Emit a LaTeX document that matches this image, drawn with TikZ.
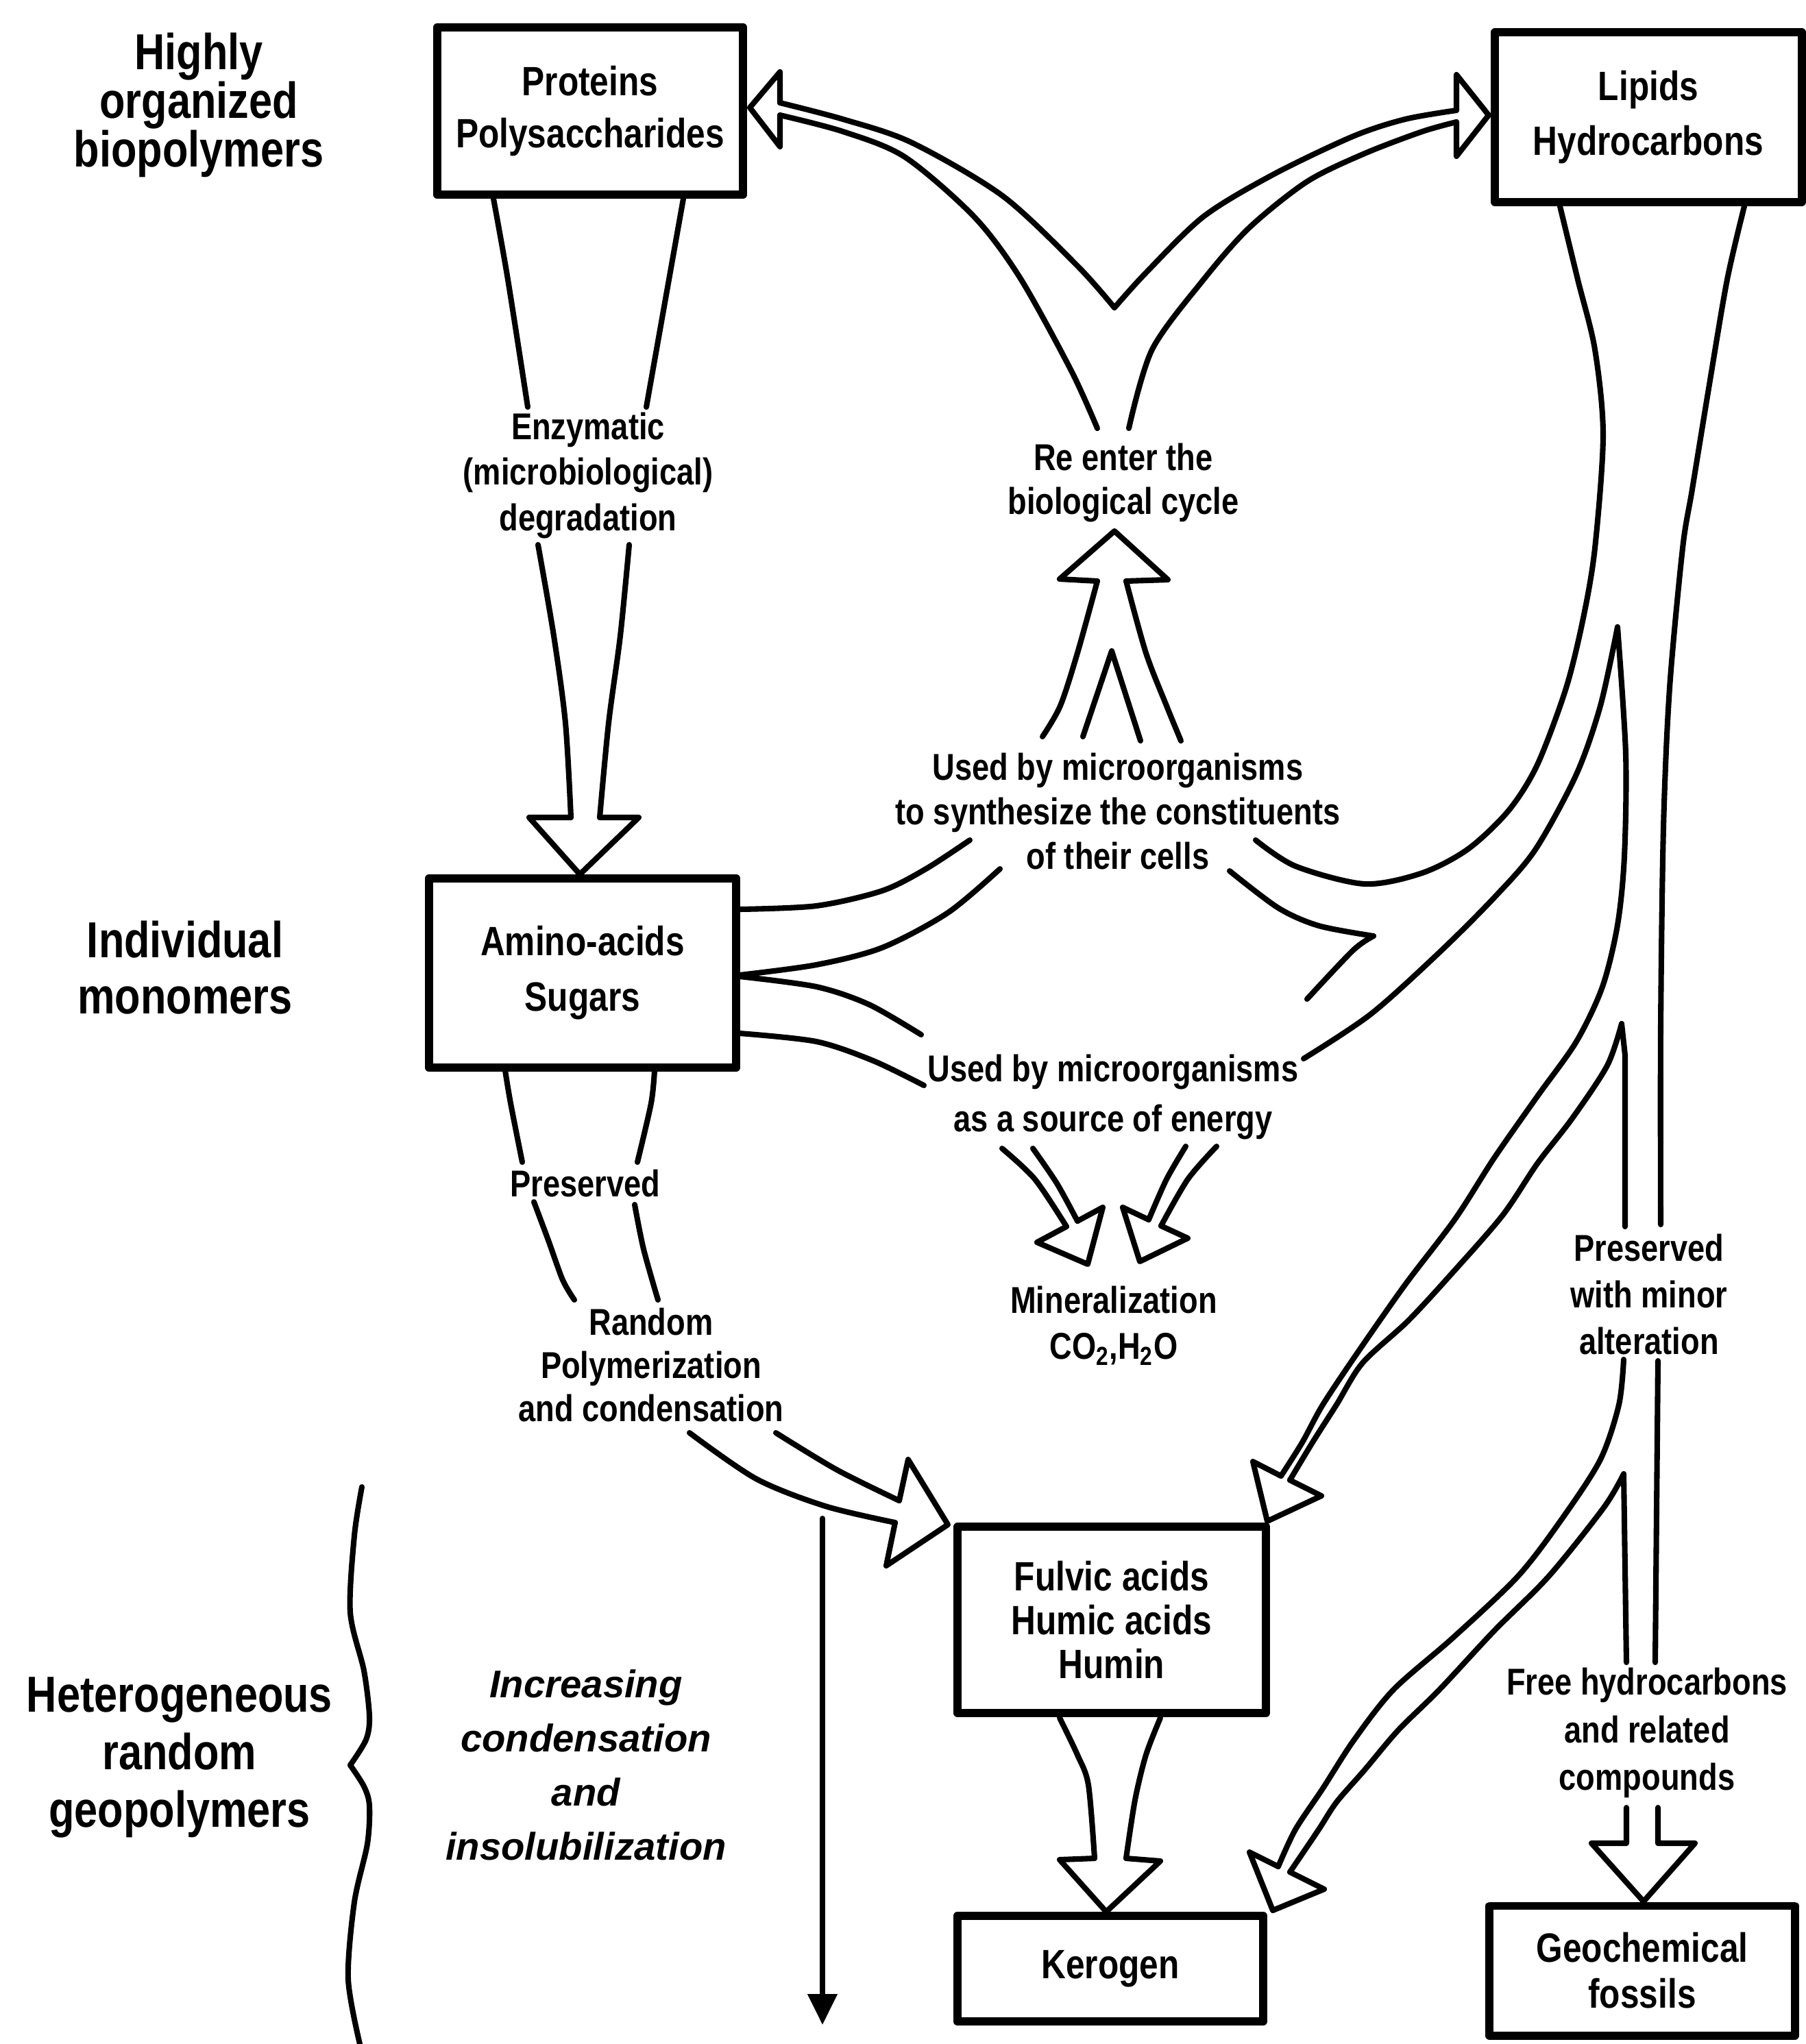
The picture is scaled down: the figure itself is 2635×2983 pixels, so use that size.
\documentclass[tikz,border=0pt]{standalone}
\usepackage{fontspec}
\setmainfont{Liberation Sans}[FakeStretch=0.83]
\newfontfamily\itfam{Liberation Sans}
\usetikzlibrary{arrows.meta}
\begin{document}
\begin{tikzpicture}[x=0.01cm,y=-0.01cm, line join=round, line cap=round,
  box/.style={draw, line width=3.4pt, inner sep=0pt, align=center},
  boxfont/.style={font=\bfseries\fontsize{17}{#1}\selectfont},
  band/.style={line width=2.3pt},
  lbl/.style={font=\bfseries\fontsize{15.5}{#1}\selectfont, align=center, inner sep=0pt},
  side/.style={font=\bfseries\fontsize{21}{#1}\selectfont, align=center, inner sep=0pt},
  ital/.style={font=\itfam\bfseries\itshape\fontsize{16}{22.5}\selectfont, align=center, inner sep=0pt}]
\useasboundingbox (0,0) rectangle (2635,2983);

% ---------- boxes ----------
\node[box, boxfont=21.6pt, minimum width=4.46cm, minimum height=2.44cm] (prot) at (861,162) {Proteins\\Polysaccharides};
\node[box, boxfont=22.8pt, minimum width=4.47cm, minimum height=2.48cm] (lip) at (2405,171) {Lipids\\Hydrocarbons};
\node[box, boxfont=23pt, minimum width=4.48cm, minimum height=2.76cm] (amino) at (850,1420) {Amino-acids\\Sugars};
\node[box, boxfont=18.2pt, minimum width=4.49cm, minimum height=2.72cm] (fulvic) at (1622,2364) {Fulvic acids\\Humic acids\\Humin};
\node[box, boxfont=20pt, minimum width=4.46cm, minimum height=1.54cm] (kero) at (1620,2873) {Kerogen};
\node[box, boxfont=19pt, minimum width=4.45cm, minimum height=1.89cm] (geo) at (2396,2876) {Geochemical\\fossils};

% ---------- side labels ----------
\node[side=20.2pt] (s1) at (290,153) {Highly\\organized\\biopolymers};
\node[side=23.3pt] (s2) at (270,1412) {Individual\\monomers};
\node[side=23.8pt] (s3) at (262,2565) {Heterogeneous\\random\\geopolymers};

% ---------- labels ----------
\node[lbl=18.8pt] (enz) at (858,694) {Enzymatic\\(microbiological)\\degradation};
\node[lbl=18.2pt] (reenter) at (1639,705) {Re enter the\\biological cycle};
\node[lbl=18.6pt] (syn) at (1631,1184) {Used by microorganisms\\to synthesize the constituents\\of their cells};
\node[lbl=21pt] (energy) at (1624,1601) {Used by microorganisms\\as a source of energy};
\node[lbl=19pt] (miner) at (1625,1935) {Mineralization\\CO\textsubscript{2},H\textsubscript{2}O};
\node[lbl=18pt] (pres1) at (854,1727) {Preserved};
\node[lbl=17.8pt] (rand) at (950,1992) {Random\\Polymerization\\and condensation};
\node[lbl=19.4pt] (pres2) at (2406,1889) {Preserved\\with minor\\alteration};
\node[lbl=19.8pt] (free) at (2403,2529) {Free hydrocarbons\\and related\\compounds};
\node[ital] (incr) at (855,2576) {Increasing\\condensation\\and\\insolubilization};

% ---------- brace and thin arrow ----------
\draw[line width=2.3pt] plot[smooth] coordinates {(528,2170) (517,2241) (511,2353) (531,2438) (539,2505) (534,2539) (511,2576)};
\draw[line width=2.3pt] plot[smooth] coordinates {(511,2576) (531,2607) (539,2635) (536,2691) (517,2776) (508,2888) (525,2983)};
\coordinate (dtop) at (1200,2216);
\coordinate (dbot) at (1200,2955);
\draw[line width=2.3pt, -{Triangle[length=0.45cm,width=0.42cm]}] (dtop) -- (dbot);

% ---------- top V double arrow ----------
\draw[band] plot[smooth] coordinates {(1138,168) (1230,192) (1320,229) (1421,316) (1488,405) (1563,541) (1601,625)};
\draw[band] plot[smooth] coordinates {(1138,150) (1230,174) (1330,208) (1463,286) (1572,388) (1626,449)};
\draw[band] plot[smooth] coordinates {(1626,449) (1672,398) (1756,316) (1857,255) (1974,199) (2050,174) (2125,161)};
\draw[band] plot[smooth] coordinates {(1647,625) (1681,510) (1756,408) (1823,332) (1907,265) (1991,224) (2075,192) (2125,178)};
\draw[band] (1138,150) -- (1138,105) -- (1094,157) -- (1138,214) -- (1138,168);
\draw[band] (2125,161) -- (2125,109) -- (2172,168) -- (2125,228) -- (2125,178);

% ---------- upward arrow to re-enter ----------
\draw[band] plot[smooth] coordinates {(1521,1075) (1547,1030) (1572,953) (1601,848)};
\draw[band] plot[smooth] coordinates {(1723,1081) (1702,1030) (1672,953) (1643,848)};
\draw[band] (1580,1075) -- (1622,950) -- (1664,1081);
\draw[band] (1601,848) -- (1546,845) -- (1626,775) -- (1704,846) -- (1643,848);

% ---------- proteins to amino acids ----------
\draw[band] plot[smooth] coordinates {(720,290) (741,408) (770,594)};
\draw[band] plot[smooth] coordinates {(997,290) (976,408) (943,594)};
\draw[band] plot[smooth] coordinates {(785,795) (808,928) (825,1055) (833,1193)};
\draw[band] plot[smooth] coordinates {(918,795) (905,928) (888,1055) (875,1193)};
\draw[band] (833,1193) -- (772,1193) -- (846,1276) -- (932,1193) -- (875,1193);

% ---------- amino acids downward ----------
\draw[band] plot[smooth] coordinates {(737,1562) (745,1610) (762,1696)};
\draw[band] plot[smooth] coordinates {(955,1562) (950,1610) (930,1696)};
\draw[band] plot[smooth] coordinates {(779,1754) (800,1810) (821,1868) (838,1897)};
\draw[band] plot[smooth] coordinates {(926,1758) (939,1823) (960,1897)};
\draw[band] plot[smooth] coordinates {(1006,2091) (1103,2158) (1204,2198) (1306,2222)};
\draw[band] plot[smooth] coordinates {(1132,2091) (1221,2145) (1312,2190)};
\draw[band] (1312,2190) -- (1325,2130) -- (1383,2225) -- (1293,2285) -- (1306,2222);

% ---------- amino acids sideways bands ----------
\draw[band] plot[smooth] coordinates {(1079,1327) (1191,1322) (1287,1300) (1351,1268) (1415,1226)};
\draw[band] plot[smooth] coordinates {(1079,1423) (1191,1408) (1287,1383) (1383,1332) (1459,1268)};
\draw[band] plot[smooth] coordinates {(1079,1425) (1191,1440) (1268,1466) (1344,1510)};
\draw[band] plot[smooth] coordinates {(1079,1508) (1191,1520) (1274,1548) (1348,1584)};

% ---------- lipid band ----------
\draw[band] plot[smooth] coordinates {(2276,301) (2302,408) (2327,510) (2339,635) (2327,800) (2310,902) (2285,1004) (2243,1116) (2201,1183) (2142,1239) (2075,1274) (1991,1290) (1890,1264) (1832,1226)};
\draw[band] plot[smooth] coordinates {(2545,301) (2520,408) (2494,561) (2469,714) (2455,800) (2436,1004) (2427,1208) (2423,1500) (2423,1787)};
\draw[band] plot[smooth] coordinates {(2360,915) (2372,1100) (2370,1250) (2360,1350) (2338,1440) (2300,1520) (2243,1600) (2180,1690) (2123,1779) (2050,1875) (1980,1975) (1930,2050) (1900,2105) (1869,2154)};
\draw[band] plot[smooth] coordinates {(2360,915) (2335,1030) (2300,1130) (2240,1240) (2180,1310) (2100,1390) (2000,1480) (1902,1545)};
\draw[band] plot[smooth] coordinates {(1794,1271) (1865,1325) (1924,1351) (2004,1366)};
\draw[band] plot[smooth] coordinates {(2004,1366) (1974,1387) (1907,1458)};
\draw[band] (2366,1494) -- (2371,1540) -- (2371,1790);
\draw[band] plot[smooth] coordinates {(2366,1494) (2345,1555) (2294,1632) (2243,1698) (2192,1774) (2116,1861) (2054,1928) (1988,1989) (1950,2050) (1915,2105) (1882,2160)};
\draw[band] (1869,2154) -- (1828,2133) -- (1849,2220) -- (1928,2183) -- (1882,2160);

% ---------- below alteration ----------
\draw[band] (2419,1986) -- (2415,2426);
\draw[band] plot[smooth] coordinates {(2369,1984) (2362,2050) (2335,2130) (2280,2215) (2215,2300) (2120,2390) (2033,2466) (1975,2540) (1930,2610) (1890,2670) (1865,2724)};
\draw[band] plot[smooth] coordinates {(2369,2151) (2340,2200) (2260,2300) (2180,2380) (2100,2466) (2040,2525) (1991,2583) (1950,2630) (1924,2670) (1882,2732)};
\draw[band] (2369,2151) -- (2373,2426);
\draw[band] (1865,2724) -- (1823,2703) -- (1857,2788) -- (1932,2757) -- (1882,2732);
\draw[band] (2373,2638) -- (2373,2690) -- (2322,2690) -- (2398,2775) -- (2473,2690) -- (2419,2690) -- (2419,2638);

% ---------- fulvic to kerogen ----------
\draw[band] plot[smooth] coordinates {(1546,2507) (1572,2561) (1588,2605) (1597,2712)};
\draw[band] plot[smooth] coordinates {(1693,2507) (1672,2561) (1656,2627) (1643,2712)};
\draw[band] (1597,2712) -- (1546,2714) -- (1614,2790) -- (1693,2716) -- (1643,2712);

% ---------- mineralization arrows ----------
\draw[band] plot[smooth] coordinates {(1462,1676) (1510,1721) (1556,1790)};
\draw[band] plot[smooth] coordinates {(1507,1676) (1542,1727) (1572,1782)};
\draw[band] (1556,1790) -- (1513,1813) -- (1587,1845) -- (1609,1762) -- (1572,1782);
\draw[band] plot[smooth] coordinates {(1730,1673) (1702,1721) (1676,1780)};
\draw[band] plot[smooth] coordinates {(1775,1673) (1733,1721) (1694,1789)};
\draw[band] (1676,1780) -- (1638,1762) -- (1663,1841) -- (1733,1807) -- (1694,1789);
\end{tikzpicture}
\end{document}
